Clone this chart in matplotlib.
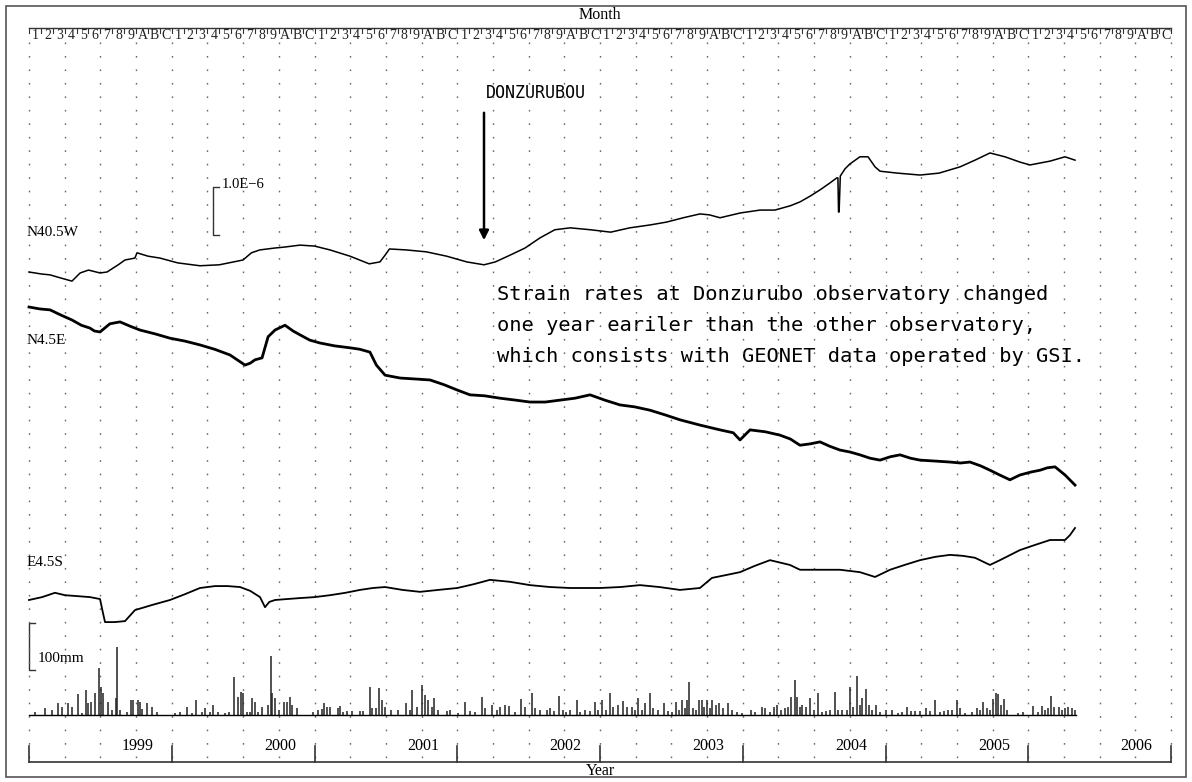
import matplotlib
matplotlib.use("Agg")
import matplotlib.pyplot as plt
import numpy as np
from matplotlib.patches import Rectangle

# ---------------- data (time in months since Jan 1999) ----------------
years = ["1999", "2000", "2001", "2002", "2003", "2004", "2005", "2006"]
month_labels = ["1", "2", "3", "4", "5", "6", "7", "8", "9", "A", "B", "C"]

# strain, units of 1.0E-6 relative to start of record
n405w_t = [0, 1.0, 1.77, 2.6, 3.61, 4.3, 5.0, 5.97, 6.56, 7.5, 8.07, 8.9, 9.08, 10.0, 11.01,
           12.5, 14.37, 16.0, 17.99, 18.7, 19.4, 20.68, 21.5, 22.78, 24.0, 25.3, 26.98, 28.6,
           29.5, 29.93, 30.3, 31.7, 33.4, 35.1, 36.8, 38.25, 39.2, 40.43, 41.7, 42.95, 44.2,
           45.5, 47.2, 48.9, 50.5, 52.2, 53.6, 55.0, 56.4, 57.2, 58.09, 59.8, 61.45, 62.7,
           64.0, 64.81, 65.66, 66.49, 67.3, 67.9, 68.0, 68.05, 68.10, 68.2, 68.6, 69.0, 69.85,
           70.53, 71.12, 71.54, 73.0, 74.90, 76.5, 78.26, 79.52, 80.78, 82.04, 83.30, 84.14,
           85.83, 87.09, 87.93]
n405w_v = [0, -0.04, -0.06, -0.12, -0.19, -0.02, 0.04, -0.02, 0.00, 0.15, 0.25, 0.29, 0.40, 0.33,
           0.29, 0.19, 0.13, 0.15, 0.25, 0.40, 0.46, 0.50, 0.52, 0.56, 0.54, 0.46, 0.33, 0.17,
           0.21, 0.35, 0.48, 0.46, 0.42, 0.33, 0.21, 0.15, 0.21, 0.35, 0.50, 0.71, 0.88,
           0.92, 0.88, 0.83, 0.92, 0.98, 1.04, 1.13, 1.21, 1.19, 1.13, 1.23, 1.29, 1.29,
           1.38, 1.46, 1.58, 1.71, 1.85, 1.96, 1.96, 1.25, 1.25, 2.00, 2.15, 2.25, 2.40,
           2.40, 2.19, 2.10, 2.06, 2.02, 2.06, 2.19, 2.33, 2.48, 2.40, 2.29, 2.23,
           2.31, 2.40, 2.33]

n45e_t = [0, 0.9, 1.77, 2.7, 3.61, 4.4, 5.13, 5.5, 5.97, 6.8, 7.65, 8.5, 9.33, 10.6, 11.85,
          13.1, 14.37, 15.6, 16.90, 17.5, 18.16, 18.6, 19.00, 19.59, 20.1, 20.68, 21.52, 22.2,
          22.78, 23.6, 24.46, 25.7, 26.98, 27.8, 28.66, 29.2, 29.93, 31.20, 32.5, 33.71, 34.9,
          36.00, 37.07, 38.3, 39.59, 40.9, 42.11, 43.4, 44.64, 45.9, 47.16, 48.4, 49.68, 50.9,
          52.20, 53.5, 54.72, 56.40, 58.09, 59.2, 59.77, 60.61, 61.9, 63.13, 64.0, 64.81, 65.7,
          66.49, 67.3, 68.17, 69.0, 69.85, 70.7, 71.54, 72.4, 73.22, 74.1, 74.90, 76.2, 77.42,
          78.3, 79.10, 80.0, 80.78, 81.6, 82.46, 83.30, 84.2, 84.99, 85.6, 86.25, 87.09, 87.93]
n45e_v = [0, -0.04, -0.06, -0.17, -0.27, -0.38, -0.44, -0.50, -0.52, -0.35, -0.31, -0.40, -0.48,
          -0.56, -0.65, -0.71, -0.79, -0.88, -1.00, -1.10, -1.21, -1.17, -1.10, -1.06, -0.62,
          -0.48, -0.38, -0.50, -0.58, -0.69, -0.75, -0.81, -0.85, -0.88, -0.94, -1.21, -1.42,
          -1.48, -1.50, -1.52, -1.62, -1.73, -1.83, -1.85, -1.90, -1.94, -1.98, -1.98, -1.94,
          -1.90, -1.83, -1.94, -2.04, -2.08, -2.15, -2.25, -2.35, -2.46, -2.56, -2.62, -2.77,
          -2.56, -2.60, -2.67, -2.75, -2.88, -2.85, -2.81, -2.90, -2.98, -3.02, -3.08, -3.15,
          -3.19, -3.12, -3.08, -3.15, -3.19, -3.21, -3.23, -3.25, -3.23, -3.31, -3.40, -3.50,
          -3.60, -3.50, -3.44, -3.40, -3.35, -3.33, -3.50, -3.71]

e45s_t = [0, 1.1, 2.18, 3.03, 4.1, 5.13, 5.97, 6.20, 6.39, 7.2, 8.07, 8.91, 10.4, 11.85, 13.1,
          14.37, 15.64, 16.7, 17.74, 18.6, 19.42, 19.84, 20.2, 20.68, 21.7, 22.78, 24.0, 25.30,
          26.6, 27.82, 28.9, 29.93, 31.4, 32.87, 34.4, 36.00, 37.4, 38.75, 40.4, 42.11, 43.8,
          45.48, 46.7, 48.00, 49.7, 51.36, 53.0, 54.72, 56.40, 57.41, 58.6, 59.77, 61.0, 62.29,
          63.97, 64.81, 66.5, 68.17, 69.85, 71.12, 72.38, 73.6, 74.90, 76.2, 77.42, 78.5, 79.52,
          80.78, 81.62, 82.5, 83.30, 84.6, 85.83, 87.09, 87.5, 87.93]
e45s_v = [0, 0.06, 0.15, 0.10, 0.08, 0.06, 0.02, -0.25, -0.46, -0.46, -0.44, -0.21, -0.10, 0,
          0.12, 0.25, 0.29, 0.29, 0.27, 0.19, 0.06, -0.15, -0.04, 0, 0.02, 0.04, 0.06, 0.10,
          0.15, 0.21, 0.25, 0.27, 0.21, 0.17, 0.21, 0.25, 0.33, 0.42, 0.38, 0.31, 0.27,
          0.25, 0.25, 0.25, 0.27, 0.31, 0.27, 0.21, 0.25, 0.46, 0.52, 0.58, 0.71, 0.83,
          0.73, 0.63, 0.63, 0.63, 0.58, 0.48, 0.63, 0.73, 0.83, 0.90, 0.94, 0.92, 0.88,
          0.73, 0.83, 0.94, 1.04, 1.15, 1.25, 1.25, 1.35, 1.50]

# rainfall (mm)
rain_t = [0.50, 1.34, 1.93, 2.44, 2.77, 3.28, 3.61, 4.12, 4.46, 4.79, 4.96, 5.21, 5.55, 5.88, 6.05,
          6.22, 6.64, 6.98, 7.31, 7.40, 7.65, 8.24, 8.57, 8.74, 9.16, 9.33, 9.50, 9.92, 10.34, 10.76,
          12.27, 12.69, 13.28, 13.70, 14.04, 14.54, 14.80, 15.22, 15.47, 15.89, 16.48, 16.81, 17.23,
          17.57, 17.82, 17.99, 18.33, 18.58, 18.75, 19.00, 19.25, 19.59, 20.09, 20.34, 20.43, 20.68,
          21.02, 21.44, 21.69, 21.94, 22.11, 22.53, 23.87, 24.29, 24.63, 24.80, 25.05, 25.30, 25.97,
          26.14, 26.40, 26.73, 27.15, 27.82, 28.08, 28.66, 28.83, 29.17, 29.42, 29.67, 29.93, 30.43,
          31.02, 31.69, 32.03, 32.20, 32.62, 33.04, 33.29, 33.54, 33.88, 34.05, 34.38, 35.14, 35.39,
          36.06, 36.65, 37.07, 37.49, 38.08, 38.33, 38.92, 39.34, 39.59, 40.01, 40.35, 40.85, 41.36,
          41.70, 42.28, 42.54, 42.96, 43.54, 43.80, 44.13, 44.55, 44.89, 45.14, 45.48, 46.07, 46.32,
          46.74, 47.16, 47.58, 47.83, 48.17, 48.50, 48.84, 49.09, 49.51, 49.93, 50.27, 50.69, 50.94,
          51.19, 51.53, 51.78, 52.20, 52.45, 52.87, 53.38, 53.71, 54.05, 54.39, 54.64, 54.89, 55.14,
          55.31, 55.48, 55.82, 56.07, 56.32, 56.57, 56.74, 56.99, 57.25, 57.41, 57.75, 58.00, 58.34,
          58.76, 59.10, 59.52, 59.94, 60.69, 61.03, 61.62, 61.87, 62.29, 62.63, 62.88, 63.21, 63.55,
          63.80, 64.05, 64.39, 64.56, 64.81, 64.98, 65.32, 65.65, 65.99, 66.32, 66.66, 67.00, 67.33,
          67.75, 68.01, 68.34, 68.76, 69.01, 69.27, 69.60, 69.85, 70.02, 70.36, 70.61, 70.86, 71.20,
          71.54, 72.04, 72.55, 73.05, 73.39, 73.81, 74.14, 74.48, 74.90, 75.40, 75.74, 76.16, 76.58,
          76.92, 77.25, 77.59, 78.01, 78.26, 78.68, 79.27, 79.69, 79.94, 80.19, 80.53, 80.78, 81.03,
          81.30, 81.46, 81.71, 81.96, 82.21, 83.14, 83.56, 84.40, 84.82, 85.15, 85.41, 85.66, 85.91,
          86.16, 86.58, 86.84, 87.09, 87.34, 87.67, 87.93]
rain_mm = [6, 15, 11, 26, 17, 26, 17, 45, 4, 53, 26, 28, 47, 100, 60,
           47, 28, 11, 36, 145, 11, 6, 32, 32, 32, 28, 13, 26, 17, 6,
           4, 6, 17, 4, 32, 6, 15, 6, 21, 6, 4, 6, 81,
           38, 49, 47, 6, 6, 36, 28, 6, 17, 21, 126, 47, 36,
           11, 28, 28, 38, 21, 15, 6, 11, 13, 26, 17, 17, 15,
           19, 6, 9, 9, 9, 9, 60, 15, 15, 57, 32, 17, 11,
           11, 26, 11, 53, 17, 64, 43, 32, 17, 36, 11, 9, 11,
           4, 28, 9, 6, 38, 15, 21, 11, 17, 21, 19, 6, 34,
           17, 47, 15, 11, 11, 15, 9, 40, 11, 6, 11, 32, 6,
           11, 9, 28, 11, 32, 11, 47, 17, 21, 30, 17, 17, 11,
           36, 11, 26, 47, 15, 11, 26, 9, 6, 28, 11, 32, 15,
           32, 70, 15, 11, 32, 32, 17, 32, 15, 32, 21, 26, 15,
           26, 11, 6, 4, 11, 6, 17, 15, 6, 17, 21, 11, 15,
           17, 38, 74, 38, 17, 21, 17, 36, 11, 47, 6, 9, 11,
           49, 11, 11, 11, 60, 17, 83, 21, 36, 55, 21, 11, 21,
           6, 11, 11, 4, 6, 17, 9, 9, 9, 15, 9, 32, 6,
           9, 11, 11, 32, 15, 4, 6, 15, 11, 28, 15, 11, 34,
           47, 45, 21, 34, 11, 4, 6, 19, 6, 19, 11, 15, 40,
           17, 17, 11, 15, 17, 15, 11]

# ---------------- layout helpers ----------------
W, H = 1192, 782
X0, PXM = 29.0, 11.896          # pixel of month 0, pixels per month
STRAIN_PX = 48.0                # pixels per 1.0E-6
RAIN_PX = 0.47                  # pixels per mm
BASE = {"n405w": 272, "n45e": 307, "e45s": 600, "rain": 715}

fig = plt.figure(figsize=(W / 100, H / 100), dpi=100)
fig.patch.set_facecolor("white")
deco = fig.add_axes([0, 0, 1, 1])
deco.set_xlim(0, W); deco.set_ylim(H, 0); deco.axis("off")
ax = fig.add_axes([0, 0, 1, 1], facecolor="none")
ax.set_xlim(-X0 / PXM, (W - X0) / PXM); ax.set_ylim(H, 0); ax.axis("off")

serif = "Liberation Serif"
mono = "DejaVu Sans Mono"

# outer frame
deco.add_patch(Rectangle((6, 6), 1180, 771, fill=False, ec="#555555", lw=1.2))

# dotted grid every 3 months
for m in range(0, 97, 3):
    ax.plot([m, m], [42, 760], color="#666666", lw=1.0, ls=(0, (1.2, 8.5)))

# top month band
ax.plot([0, 96], [28, 28], color="#333333", lw=1.0)
for i in range(96):
    ax.plot([i, i], [28, 33], color="#333333", lw=0.8)
    ax.text(i + 0.55, 35.5, month_labels[i % 12], ha="center", va="center",
            fontsize=10, family=serif, color="#222222")
ax.plot([96, 96], [28, 33], color="#333333", lw=0.8)
deco.text(600, 15, "Month", ha="center", va="center", fontsize=11.5, family=serif)

# bottom year axis
ax.plot([0, 96], [762, 762], color="#333333", lw=1.2)
for k in range(9):
    ax.plot([12 * k, 12 * k], [746, 762], color="#333333", lw=1.2)
for k, y in enumerate(years):
    ax.text(12 * k + 9.1, 746, y, ha="center", va="center", fontsize=11.5, family=serif)
deco.text(600, 771, "Year", ha="center", va="center", fontsize=11.5, family=serif)

# strain series
def strain_y(vals, key):
    return [BASE[key] - v * STRAIN_PX for v in vals]

ax.plot(n405w_t, strain_y(n405w_v, "n405w"), color="black", lw=1.1)
ax.plot(n45e_t, strain_y(n45e_v, "n45e"), color="black", lw=2.0)
ax.plot(e45s_t, strain_y(e45s_v, "e45s"), color="black", lw=1.3)

# rainfall bars
rb = BASE["rain"]
ax.vlines(rain_t, rb, [rb - r * RAIN_PX for r in rain_mm], color="#222222", lw=1.1)
ax.plot([0, max(rain_t) + 0.1], [rb, rb], color="black", lw=1.0)

# series labels
for txt, y in [("N40.5W", 233), ("N4.5E", 341), ("E4.5S", 563)]:
    deco.text(27, y, txt, ha="left", va="center", fontsize=11, family=serif)

# scale bars
deco.plot([219, 213, 213, 219], [187, 187, 235, 235], color="#333333", lw=1.0)
deco.text(222, 185, "1.0E\u22126", ha="left", va="center", fontsize=10.5, family=serif)
deco.plot([35, 29, 29, 35], [623, 623, 670, 670], color="#333333", lw=1.0)
deco.text(38, 658, "100mm", ha="left", va="center", fontsize=11, family=serif)

# annotation
deco.text(486, 93, "DONZURUBOU", ha="left", va="center", fontsize=12, family=mono)
deco.annotate("", xy=(484, 243), xytext=(484, 110),
              arrowprops=dict(arrowstyle="-|>", color="black", lw=1.8, mutation_scale=14))
note = ["Strain rates at Donzurubo observatory changed",
        "one year eariler than the other observatory,",
        "which consists with GEONET data operated by GSI."]
for i, line in enumerate(note):
    deco.text(497, 295 + 30.5 * i, line, ha="left", va="center", fontsize=14.7, family=mono)

fig.savefig("out.png", dpi=100, facecolor="white")
